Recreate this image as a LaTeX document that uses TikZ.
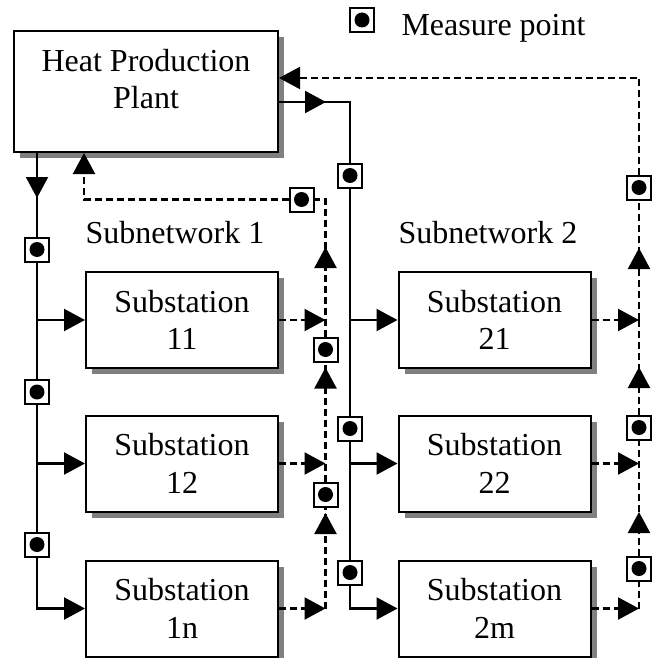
\documentclass[tikz,border=0pt]{standalone}
\usepackage{fontspec}
\setmainfont{Liberation Serif}
\usepackage{tikz}
\usetikzlibrary{
	arrows.meta,
	calc,
	shadows,
	decorations.markings
}

\tikzset{
	unit/.style={draw,line width=2pt,fill=white,align=center,
		minimum width=192pt,minimum height=96pt,inner sep=0pt,
		general shadow={fill=gray,shadow xshift=6pt,shadow yshift=-6pt}},
	mpoint/.style={draw,line width=2pt,fill=white,minimum size=24pt,inner sep=0pt},
	feed/.style={line width=2.2pt},
	ret/.style={line width=2.2pt,dash pattern=on 7pt off 4pt},
	flowmark/.style={postaction={decorate},
		decoration={markings,mark=at position #1 with {\arrow{Triangle[length=21pt,width=22pt]}}}}
}

\begin{document}
\begin{tikzpicture}[>={Triangle[length=21pt,width=22pt]},x=1pt,y=-1pt,
	every node/.style={font=\fontsize{32}{37.5}\selectfont}]
		
		\useasboundingbox (0,0) rectangle (657,658);
		
		% plant and substations
		\node[unit,minimum width=264pt,minimum height=121pt,text depth=25pt] (plant) at (146,91.5) {Heat Production\\Plant};
		\node[unit] (s11) at (182,320) {Substation\\11};
		\node[unit] (s12) at (182,463.5) {Substation\\12};
		\node[unit] (s1n) at (182,608.5) {Substation\\1n};
		\node[unit] (s21) at (494.5,320) {Substation\\21};
		\node[unit] (s22) at (494.5,463.5) {Substation\\22};
		\node[unit] (s2m) at (494.5,608.5) {Substation\\2m};
		
		\node[anchor=base] (sub1) at (175,243) {Subnetwork 1};
		\node[anchor=base] (sub2) at (488,243) {Subnetwork 2};
		
		% legend
		\node[mpoint] (legend) at (362,20) {};
		\node[anchor=base west] (legtext) at (398,36) {Measure point};
		
		% measure points
		\node[mpoint] (ml1) at (37,249.5) {};
		\node[mpoint] (ml2) at (37,392) {};
		\node[mpoint] (ml3) at (37,544.5) {};
		\node[mpoint] (ms1) at (350,175.5) {};
		\node[mpoint] (ms2) at (350,428.5) {};
		\node[mpoint] (ms3) at (350,572.5) {};
		\node[mpoint] (mtop1) at (301.5,199.5) {};
		\node[mpoint] (md11) at (325.5,349.5) {};
		\node[mpoint] (md12) at (325.5,494.5) {};
		\node[mpoint] (mr1) at (639,187.5) {};
		\node[mpoint] (mr2) at (639,427.5) {};
		\node[mpoint] (mr3) at (639,568.5) {};
		
		\foreach \m in {legend,ml1,ml2,ml3,ms1,ms2,ms3,mtop1,md11,md12,mr1,mr2,mr3}
			\fill (\m.center) circle[radius=7.5pt];
		
		% supply, subnetwork 1
		\draw[feed,flowmark=45pt] (plant.south -| ml1) -- (ml1);
		\draw[feed] (ml1) -- (ml2) (ml2) -- (ml3);
		\draw[feed,->] (ml3) |- (s1n);
		\draw[feed,->] (ml1 |- s11) -- (s11);
		\draw[feed,->] (ml1 |- s12) -- (s12);
		
		% supply, subnetwork 2
		\draw[feed,flowmark=47pt] ([yshift=-72pt]plant.north east) -| (ms1);
		\draw[feed] (ms1) -- (ms2) (ms2) -- (ms3);
		\draw[feed,->] (ms3) |- (s2m);
		\draw[feed,->] (ms1 |- s21) -- (s21);
		\draw[feed,->] (ms1 |- s22) -- (s22);
		
		% return, subnetwork 1
		\draw[ret,->] (s11) -- (s11 -| md11);
		\draw[ret,->] (s12) -- (s12 -| md11);
		\draw[ret,->] (s1n) -- (s1n -| md11);
		\draw[ret,flowmark=95.5pt] (s1n -| md11) -- (md12);
		\draw[ret,flowmark=114pt] (md12) -- (md11);
		\draw[ret,flowmark=89.5pt] (md11) |- (mtop1);
		\draw[ret,->] (mtop1) -| ([xshift=71pt]plant.south west);
		
		% return, subnetwork 2
		\draw[ret,->] (s21) -- (s21 -| mr1);
		\draw[ret,->] (s22) -- (s22 -| mr1);
		\draw[ret,->] (s2m) -- (s2m -| mr1);
		\draw[ret] (s2m -| mr3) -- (mr3);
		\draw[ret,flowmark=43.5pt] (mr3) -- (mr2);
		\draw[ret,flowmark=47.5pt] (mr2) -- (mr2 |- s21);
		\draw[ret,flowmark=72pt] (mr2 |- s21) -- (mr1);
		\draw[ret,->] (mr1) |- ([yshift=-48pt]plant.north east);
		
	\end{tikzpicture}
\end{document}
